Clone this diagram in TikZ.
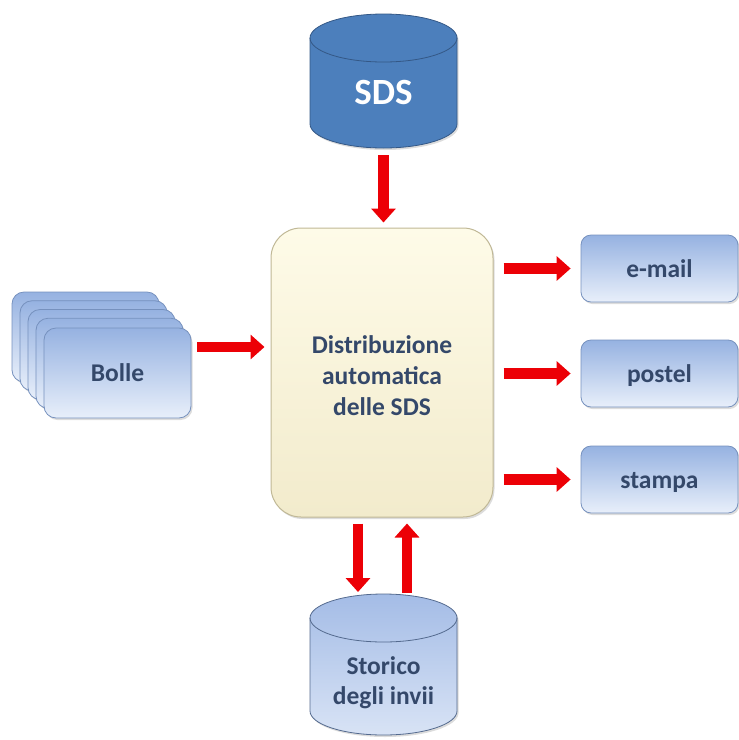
\documentclass[tikz,border=0pt]{standalone}
\usepackage{fontspec}
\setmainfont{Carlito}
\usetikzlibrary{arrows.meta,shadows}
\definecolor{arrred}{RGB}{236,0,6}
\definecolor{txt}{RGB}{52,72,106}
\definecolor{boxtop}{RGB}{150,178,225}
\definecolor{boxbot}{RGB}{232,239,250}
\definecolor{boxedge}{RGB}{118,145,190}
\definecolor{maintop}{RGB}{254,251,232}
\definecolor{mainbot}{RGB}{242,235,204}
\definecolor{mainedge}{RGB}{192,184,150}
\definecolor{sdsfill}{RGB}{76,127,188}
\definecolor{sdsedge}{RGB}{52,88,134}
\definecolor{cyltop}{RGB}{164,188,230}
\definecolor{cylbot}{RGB}{216,227,245}
\definecolor{cyledge}{RGB}{84,106,142}
\begin{document}
\begin{tikzpicture}[x=1pt,y=-1pt,
  bigarrow/.style={draw=arrred, line width=10.5pt, -{Triangle[length=14pt,width=24pt]}},
  softshadow/.style={drop shadow={shadow xshift=1.5pt, shadow yshift=-2pt, opacity=0.28}},
  txtfont/.style={font=\fontsize{25.5}{30}\selectfont\bfseries},
  bluebox/.style={rectangle, rounded corners=10pt, draw=boxedge, line width=0.8pt,
    top color=boxtop, bottom color=boxbot, text=txt, softshadow, txtfont,
    text height=17pt, text depth=0pt},
  smallbox/.style={bluebox, minimum width=157pt, minimum height=67pt},
  bollebox/.style={bluebox, rounded corners=12pt, minimum width=147pt, minimum height=90pt},
  mainbox/.style={rectangle, rounded corners=30pt, draw=mainedge, line width=1pt,
    top color=maintop, bottom color=mainbot, softshadow,
    minimum width=222pt, minimum height=289pt},
  maintxt/.style={text=txt, align=center, font=\fontsize{25.5}{31}\selectfont\bfseries}]
\useasboundingbox (0,0) rectangle (739,740);

% SDS cylinder
\fill[sdsfill, softshadow] (310,38) -- (310,124) arc (180:360:73.5pt and 24pt) -- (457,38) arc (0:180:73.5pt and 24pt) -- cycle;
\draw[sdsedge, line width=0.8pt] (310,38) -- (310,124) arc (180:360:73.5pt and 24pt) -- (457,38) arc (0:180:73.5pt and 24pt) -- cycle;
\draw[sdsedge, line width=0.8pt] (310,38) arc (180:360:73.5pt and 24pt);
\node[text=white, font=\fontsize{37}{40}\selectfont\bfseries] (sds) at (383.5,92) {SDS};
\coordinate (sdsbot) at (383.5,148);

% Storico cylinder
\path[top color=cyltop, bottom color=cylbot, softshadow] (310,618) -- (310,711) arc (180:360:73.5pt and 24pt) -- (457,618) arc (0:180:73.5pt and 24pt) -- cycle;
\draw[cyledge, line width=0.8pt] (310,618) -- (310,711) arc (180:360:73.5pt and 24pt) -- (457,618) arc (0:180:73.5pt and 24pt) -- cycle;
\draw[cyledge, line width=0.8pt] (310,618) arc (180:360:73.5pt and 24pt);
\node[text=txt, align=center, txtfont] (storico) at (383.5,683) {Storico\\degli invii};
\coordinate (dnend) at (358,592);
\coordinate (upstart) at (407,593);

% main box
\node[mainbox] (main) at (382,372.5) {};
\node[maintxt] (maintext) at (382,376) {Distribuzione\\automatica\\delle SDS};

% Bolle stack
\node[bollebox] (bolle4) at (85.5,337) {};
\node[bollebox] (bolle3) at (93.5,345.75) {};
\node[bollebox] (bolle2) at (101.5,354.5) {};
\node[bollebox] (bolle1) at (109.5,363.25) {};
\node[bollebox] (bolle) at (117.5,373) {Bolle};

% output boxes
\node[smallbox] (email) at (659.5,268.5) {e-mail};
\node[smallbox] (postel) at (659.5,373.5) {postel};
\node[smallbox] (stampa) at (659.5,479.5) {stampa};

% arrows
\draw[bigarrow, shorten <=7pt, shorten >=5pt] (sdsbot) -- (sdsbot |- main.north);
\draw[bigarrow, shorten <=6pt, shorten >=6pt] ([yshift=26pt]bolle.east) -- ([yshift=26pt]bolle.east -| main.west);
\draw[bigarrow, shorten <=10pt, shorten >=10pt] (main.east |- email.west) -- (email.west);
\draw[bigarrow, shorten <=10pt, shorten >=10pt] (main.east |- postel.west) -- (postel.west);
\draw[bigarrow, shorten <=10pt, shorten >=10pt] (main.east |- stampa.west) -- (stampa.west);
\draw[bigarrow, shorten <=6pt] ([xshift=-24pt]main.south) -- (dnend);
\draw[bigarrow, shorten >=6pt] (upstart) -- ([xshift=25pt]main.south);
\end{tikzpicture}
\end{document}
